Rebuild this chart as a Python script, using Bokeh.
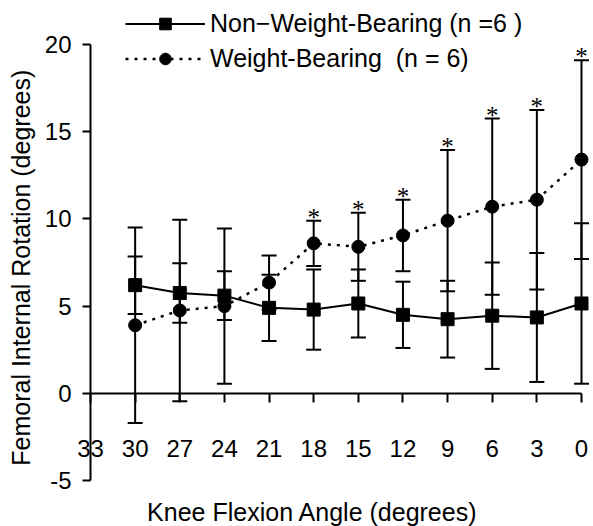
import math
from bokeh.plotting import figure
from bokeh.models import (Range1d, LinearAxis, FixedTicker, ColumnDataSource, Whisker, TeeHead,
                          Legend, LegendItem, Label, LabelSet)
from bokeh.embed import file_html
from bokeh.resources import INLINE

# ---- data ----
angles = [30, 27, 24, 21, 18, 15, 12, 9, 6, 3, 0]
nwb_mean = [6.2, 5.75, 5.6, 4.9, 4.8, 5.15, 4.5, 4.25, 4.45, 4.35, 5.15]
nwb_sd = [1.65, 1.7, 1.4, 1.9, 2.3, 1.95, 1.9, 2.2, 3.05, 3.7, 4.6]
wb_mean = [3.9, 4.75, 5.0, 6.35, 8.6, 8.4, 9.05, 9.9, 10.7, 11.1, 13.4]
wb_sd = [5.6, 5.2, 4.45, 1.55, 1.3, 1.95, 2.05, 4.05, 5.05, 5.15, 5.7]
sig_angles = [18, 15, 12, 9, 6, 3, 0]
x_ticks = [33, 30, 27, 24, 21, 18, 15, 12, 9, 6, 3, 0]
y_ticks = [-5, 0, 5, 10, 15, 20]
nwb_label = "Non\u2212Weight-Bearing (n =6 )"
wb_label = "Weight-Bearing  (n = 6)"
x_title = "Knee Flexion Angle (degrees)"
y_title = "Femoral Internal Rotation (degrees)"

FONT = "Liberation Sans"

src = ColumnDataSource(dict(
    x=angles,
    nwb=nwb_mean,
    nwb_lo=[m - s for m, s in zip(nwb_mean, nwb_sd)],
    nwb_hi=[m + s for m, s in zip(nwb_mean, nwb_sd)],
    wb=wb_mean,
    wb_lo=[m - s for m, s in zip(wb_mean, wb_sd)],
    wb_hi=[m + s for m, s in zip(wb_mean, wb_sd)],
))
wb_top = {a: m + s for a, m, s in zip(angles, wb_mean, wb_sd)}
star_src = ColumnDataSource(dict(
    x=sig_angles,
    y=[wb_top[a] for a in sig_angles],
    t=["*"] * len(sig_angles),
))

# The frame fills the whole canvas; axes are placed at fixed data locations
# (y axis at x = 33, x axis at y = 0) so that nothing is clipped.
p = figure(width=593, height=526, output_backend="svg", toolbar_location=None,
           x_range=Range1d(39.05, -0.807), y_range=Range1d(-7.638, 22.523),
           x_axis_location=None, y_axis_location=None, min_border=0)
p.grid.visible = False
p.outline_line_color = None
p.background_fill_color = "white"
p.border_fill_color = "white"

common_axis = dict(axis_line_width=2, axis_line_color="black",
                   major_tick_line_width=2, major_tick_line_color="black",
                   minor_tick_out=0, minor_tick_in=0, major_tick_in=0,
                   major_label_text_font=FONT, major_label_text_font_size="24px",
                   major_label_text_color="black")

yax = LinearAxis(ticker=FixedTicker(ticks=y_ticks), fixed_location=33, bounds=(-5, 20),
                 major_tick_out=8, major_label_standoff=11,
                 major_label_overrides={-5: "-5"}, **common_axis)
p.add_layout(yax, "left")

xax = LinearAxis(ticker=FixedTicker(ticks=x_ticks), fixed_location=0, bounds=(0, 33),
                 major_tick_out=9, major_label_standoff=38, **common_axis)
p.add_layout(xax, "below")

# error bars
for lo, hi in (("nwb_lo", "nwb_hi"), ("wb_lo", "wb_hi")):
    w = Whisker(base="x", lower=lo, upper=hi, source=src, line_width=2, line_color="black",
                upper_head=TeeHead(size=15, line_width=2, line_color="black"),
                lower_head=TeeHead(size=15, line_width=2, line_color="black"))
    p.add_layout(w)

r_nwb_line = p.line("x", "nwb", source=src, line_color="black", line_width=2)
r_wb_line = p.line("x", "wb", source=src, line_color="black", line_width=2.5, line_dash="3 6")
r_nwb_pts = p.scatter("x", "nwb", source=src, marker="square", size=13,
                      fill_color="black", line_color="black")
r_wb_pts = p.scatter("x", "wb", source=src, marker="circle", size=13,
                     fill_color="black", line_color="black")

stars = LabelSet(x="x", y="y", text="t", source=star_src, text_align="center",
                 text_baseline="alphabetic", y_offset=-5, text_font=FONT,
                 text_font_size="25px", text_color="black")
p.add_layout(stars)

legend = Legend(items=[LegendItem(label=nwb_label, renderers=[r_nwb_line, r_nwb_pts]),
                       LegendItem(label=wb_label, renderers=[r_wb_line, r_wb_pts])],
                location=(125, 453), orientation="vertical",
                glyph_width=80, glyph_height=29, label_height=29, spacing=6,
                padding=0, margin=0, label_standoff=5,
                border_line_color=None, background_fill_alpha=0,
                label_text_font=FONT, label_text_font_size="25px", label_text_color="black")
p.add_layout(legend)

p.add_layout(Label(x=18.08, y=-6.78, text=x_title, text_align="center",
                   text_baseline="middle", text_font=FONT, text_font_size="25px",
                   text_color="black"))
p.add_layout(Label(x=37.7, y=7.2, text=y_title, angle=math.pi / 2, text_align="center",
                   text_baseline="middle", text_font=FONT, text_font_size="25px",
                   text_color="black"))

open("out.html", "w").write(file_html(p, INLINE))
